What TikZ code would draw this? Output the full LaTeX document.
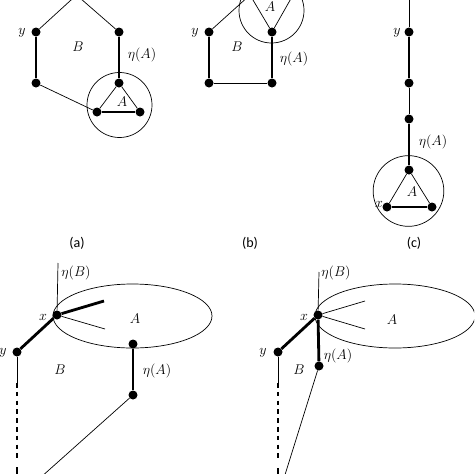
\documentclass[tikz,border=0pt]{standalone}
\usepackage{amsmath}
\usepackage{fontspec}
\newfontfamily\capfont{Carlito}

\begin{document}
\begin{tikzpicture}[x=0.03cm,y=-0.03cm,
  vtx/.style={circle,fill=black,inner sep=0pt,minimum size=0.27cm},
  thk/.style={line width=2.4pt},
  thn/.style={line width=0.6pt},
  dsh/.style={line width=1.3pt,dash pattern=on 4pt off 3.5pt},
  lbl/.style={inner sep=0pt,font=\large},
  subcap/.style={inner sep=0pt,font=\capfont\large}]
  \useasboundingbox (0,0) rectangle (474,474);
  \clip (0,0) rectangle (474,474);

  % (a)
  \coordinate (a0) at (76.5,-5);
  \node[vtx] (ay) at (36,32) {};
  \node[vtx] (ar) at (119,32) {};
  \node[vtx] (abl) at (36,83) {};
  \node[vtx] (at) at (119,83) {};
  \node[vtx] (atl) at (97,112) {};
  \node[vtx] (atr) at (140,112) {};
  \draw[thn] (119.5,105) circle (0.975cm);
  \draw[thn] (a0) -- (ay);
  \draw[thn] (a0) -- (ar);
  \draw[thk] (ay) -- (abl);
  \draw[thk] (ar) -- (at);
  \draw[thn] (abl) -- (atl);
  \draw[thn] (at) -- (atl);
  \draw[thn] (at) -- (atr);
  \draw[thk] (atl) -- (atr);
  \node[lbl] (ay-l) at (22,33) {$y$};
  \node[lbl] (aB-l) at (78,47) {$B$};
  \node[lbl] (aeta-l) at (142,55) {$\eta(A)$};
  \node[lbl] (aA-l) at (122,102) {$A$};
  \node[subcap] (acap) at (77,243) {(a)};

  % (b)
  \node[vtx] (by) at (209,32) {};
  \node[vtx] (bt) at (272,32) {};
  \node[vtx] (bbl) at (209,83) {};
  \node[vtx] (bbr) at (272,83) {};
  \coordinate (btl) at (250,-5);
  \coordinate (btr) at (293,-5);
  \draw[thn] (271.5,10.5) circle (0.975cm);
  \draw[thn] (by) -- (btl);
  \draw[thn] (btl) -- (bt);
  \draw[thn] (btr) -- (bt);
  \draw[thn] (btl) -- (btr);
  \draw[thk] (by) -- (bbl);
  \draw[thk] (bt) -- (bbr);
  \draw[thn] (bbl) -- (bbr);
  \node[lbl] (by-l) at (195,33) {$y$};
  \node[lbl] (bB-l) at (237,47) {$B$};
  \node[lbl] (beta-l) at (294,59) {$\eta(A)$};
  \node[lbl] (bA-l) at (270,7) {$A$};
  \node[subcap] (bcap) at (250,243) {(b)};

  % (c)
  \coordinate (c0) at (409,-5);
  \node[vtx] (cy) at (409,32) {};
  \node[vtx] (c2) at (409,83) {};
  \node[vtx] (c3) at (409,119) {};
  \node[vtx] (ct) at (409,170) {};
  \node[vtx] (cx) at (387,207) {};
  \node[vtx] (cr) at (432,207) {};
  \draw[thn] (408.5,191) circle (1.06cm);
  \draw[thn] (c0) -- (cy);
  \draw[thk] (cy) -- (c2);
  \draw[thn] (c2) -- (c3);
  \draw[thk] (c3) -- (ct);
  \draw[thn] (ct) -- (cx);
  \draw[thn] (ct) -- (cr);
  \draw[thk] (cx) -- (cr);
  \node[lbl] (cy-l) at (397,33) {$y$};
  \node[lbl] (ceta-l) at (433,142) {$\eta(A)$};
  \node[lbl] (cA-l) at (412,192) {$A$};
  \node[lbl] (cx-l) at (379,204) {$x$};
  \node[subcap] (ccap) at (414,243) {(c)};

  % lower left
  \coordinate (dtop) at (58,263);
  \node[vtx] (dx) at (57,315) {};
  \coordinate (d1) at (104,301);
  \coordinate (d2) at (105,329);
  \node[vtx] (dy) at (17,352) {};
  \node[vtx] (dA1) at (133,344) {};
  \node[vtx] (dA2) at (133,395) {};
  \coordinate (dend) at (40,478);
  \coordinate (dy1) at (17,383);
  \coordinate (dy2) at (17,462);
  \coordinate (dy3) at (17,467);
  \coordinate (dy4) at (17,480);
  \draw[thn] (132.5,316) ellipse [x radius=2.385cm,y radius=0.96cm];
  \draw[thn] (dtop) -- (dx);
  \draw[thk] (dx) -- (d1);
  \draw[thn] (dx) -- (d2);
  \draw[thk] (dx) -- (dy);
  \draw[thk] (dA1) -- (dA2);
  \draw[thn] (dA2) -- (dend);
  \draw[thn] (dy) -- (dy1);
  \draw[dsh] (dy1) -- (dy2);
  \draw[thk] (dy3) -- (dy4);
  \node[lbl] (deta-l) at (76,273) {$\eta(B)$};
  \node[lbl] (dx-l) at (43,317) {$x$};
  \node[lbl] (dy-l) at (3,353) {$y$};
  \node[lbl] (dB-l) at (60,370) {$B$};
  \node[lbl] (dA-l) at (135,319) {$A$};
  \node[lbl] (detaA-l) at (157,371) {$\eta(A)$};

  % lower right
  \coordinate (etop) at (319,272);
  \node[vtx] (ex) at (318,315) {};
  \node[vtx] (ey) at (278,352) {};
  \node[vtx] (eA) at (319,366) {};
  \coordinate (e1) at (365,301);
  \coordinate (e2) at (365,329);
  \coordinate (eend) at (284,478);
  \coordinate (ey1) at (278,383);
  \coordinate (ey2) at (278,462);
  \coordinate (ey3) at (278,468);
  \coordinate (ey4) at (278,480);
  \draw[thn] (395,316) ellipse [x radius=2.4cm,y radius=0.96cm];
  \draw[thn] (etop) -- (ex);
  \draw[thk] (ex) -- (eA);
  \draw[thk] (ex) -- (ey);
  \draw[thn] (ex) -- (e1);
  \draw[thn] (ex) -- (e2);
  \draw[thn] (eA) -- (eend);
  \draw[thn] (ey) -- (ey1);
  \draw[dsh] (ey1) -- (ey2);
  \draw[thk] (ey3) -- (ey4);
  \node[lbl] (eeta-l) at (336,273) {$\eta(B)$};
  \node[lbl] (ex-l) at (304,317) {$x$};
  \node[lbl] (ey-l) at (263,353) {$y$};
  \node[lbl] (eB-l) at (299,370) {$B$};
  \node[lbl] (eetaA-l) at (338,356) {$\eta(A)$};
  \node[lbl] (eA-l) at (392,320) {$A$};
\end{tikzpicture}
\end{document}
